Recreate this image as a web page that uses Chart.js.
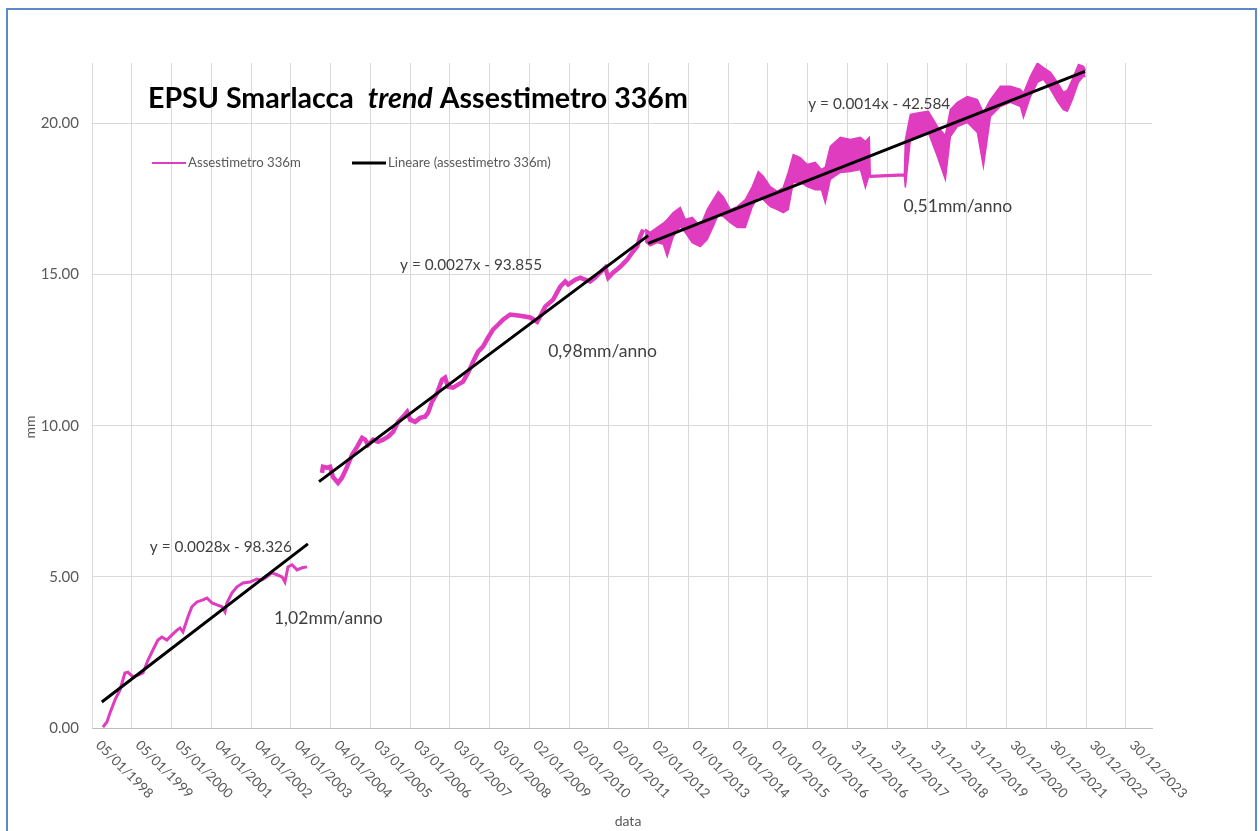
<!DOCTYPE html>
<html>
<head>
<meta charset="utf-8">
<title>EPSU Smarlacca trend Assestimetro 336m</title>
<script src="https://cdn.jsdelivr.net/npm/chart.js@4.4.1/dist/chart.umd.min.js"></script>
<style>
    html, body { margin: 0; padding: 0; background: #ffffff; }
    #wrap { width: 1260px; height: 831px; }
</style>
</head>
<body>
<div id="wrap"><canvas id="chart" width="1260" height="831"></canvas></div>
<script>
// x axis: Excel date axis, one gridline every 365 days
const tickLabels = [
    '05/01/1998', '05/01/1999', '05/01/2000', '04/01/2001', '04/01/2002', '04/01/2003',
    '04/01/2004', '03/01/2005', '03/01/2006', '03/01/2007', '03/01/2008', '02/01/2009',
    '02/01/2010', '02/01/2011', '02/01/2012', '01/01/2013', '01/01/2014', '01/01/2015',
    '01/01/2016', '31/12/2016', '31/12/2017', '31/12/2018', '31/12/2019', '30/12/2020',
    '30/12/2021', '30/12/2022', '30/12/2023'
];
const yTicks = [0, 5, 10, 15, 20];

// first measuring period (1998 - 2003)
const seg1Dates = [
    '1998-04-15', '1998-05-22', '1998-06-19', '1998-08-04', '1998-09-19', '1998-11-03', '1998-12-01',
    '1999-01-16', '1999-03-03', '1999-04-18', '1999-06-03', '1999-07-18', '1999-09-02', '1999-10-08', '1999-11-23',
    '2000-01-09', '2000-02-24', '2000-03-23', '2000-04-19', '2000-06-04', '2000-07-10', '2000-08-25', '2000-10-19', '2000-11-25',
    '2001-01-10', '2001-02-25', '2001-04-13', '2001-05-10', '2001-05-28', '2001-07-13', '2001-08-28', '2001-10-22', '2001-12-25',
    '2002-02-27', '2002-04-14', '2002-05-30', '2002-07-15', '2002-08-30', '2002-10-15', '2002-11-11', '2002-12-09',
    '2003-01-15', '2003-03-02', '2003-04-17', '2003-06-02'
];
const seg1Values = [
    0.03, 0.20, 0.50, 0.93, 1.26, 1.82, 1.85,
    1.69, 1.75, 1.82, 2.25, 2.58, 2.91, 3.01, 2.91,
    3.08, 3.24, 3.31, 3.18, 3.68, 4.01, 4.17, 4.24, 4.30,
    4.14, 4.07, 4.01, 3.84, 4.14, 4.47, 4.67, 4.80, 4.83,
    4.93, 4.90, 5.00, 5.13, 5.07, 5.00, 4.83, 5.33,
    5.40, 5.23, 5.30, 5.33
];

// second period (2003 - 2011)
const seg2Dates = [
    '2003-10-17', '2003-10-26', '2003-12-02', '2003-12-30',
    '2004-01-26', '2004-03-12', '2004-04-18', '2004-06-03', '2004-07-19', '2004-09-03', '2004-10-19', '2004-11-16', '2004-12-13',
    '2005-01-28', '2005-03-15', '2005-04-30', '2005-06-15', '2005-07-31', '2005-09-15', '2005-10-31', '2005-12-07',
    '2006-01-03', '2006-02-18', '2006-04-05', '2006-05-20', '2006-06-17', '2006-07-23', '2006-09-08', '2006-10-23', '2006-11-20', '2006-12-17',
    '2007-02-01', '2007-03-19', '2007-05-04', '2007-06-19', '2007-08-04', '2007-09-19', '2007-11-03', '2007-12-19',
    '2008-02-03', '2008-03-20', '2008-05-05', '2008-07-09', '2008-10-09',
    '2009-01-09', '2009-03-14', '2009-04-20', '2009-05-27', '2009-08-08', '2009-10-12', '2009-11-27', '2009-12-24',
    '2010-02-27', '2010-04-14', '2010-05-29', '2010-07-14', '2010-08-29', '2010-10-14', '2010-11-29', '2010-12-27',
    '2011-02-11', '2011-04-16', '2011-06-19', '2011-08-04', '2011-09-19', '2011-10-16', '2011-11-13'
];
const seg2Values = [
    8.44, 8.64, 8.61, 8.64,
    8.31, 8.11, 8.28, 8.64, 9.04, 9.30, 9.60, 9.54, 9.37,
    9.54, 9.47, 9.54, 9.64, 9.80, 10.13, 10.30, 10.46,
    10.20, 10.13, 10.26, 10.30, 10.43, 10.79, 11.09, 11.52, 11.59, 11.29,
    11.26, 11.36, 11.46, 11.75, 12.12, 12.45, 12.62, 12.91,
    13.18, 13.34, 13.51, 13.68, 13.64,
    13.58, 13.44, 13.68, 13.94, 14.17, 14.60, 14.77, 14.67,
    14.83, 14.90, 14.83, 14.77, 14.90, 15.07, 15.23, 14.90,
    15.07, 15.26, 15.50, 15.73, 15.93, 16.26, 16.49
];

// third period (2012 - 2022): daily readings, drawn as their min / max envelope
const bandDates = [
    '2011-11-30', '2012-01-16', '2012-03-20', '2012-05-15', '2012-06-20', '2012-08-14', '2012-10-18', '2012-12-03',
    '2013-02-05', '2013-04-19', '2013-06-22', '2013-08-16', '2013-10-02', '2013-11-16',
    '2014-01-20', '2014-03-25', '2014-06-07', '2014-08-10', '2014-10-04', '2014-11-19',
    '2015-01-22', '2015-03-27', '2015-05-21', '2015-07-06', '2015-08-21', '2015-10-24', '2015-12-27',
    '2016-03-10', '2016-05-05', '2016-06-10', '2016-07-26', '2016-10-26',
    '2017-01-26', '2017-04-28', '2017-06-13', '2017-07-19', '2017-07-28',
    '2018-06-06', '2018-06-15', '2018-07-31', '2018-10-30',
    '2019-01-12', '2019-04-05', '2019-06-17', '2019-08-02', '2019-10-05',
    '2020-01-05', '2020-04-06', '2020-05-31', '2020-08-04', '2020-11-03',
    '2021-02-04', '2021-05-07', '2021-06-03', '2021-08-06', '2021-10-09', '2021-12-03',
    '2022-02-06', '2022-04-11', '2022-06-05', '2022-07-11', '2022-08-26', '2022-10-21', '2022-12-06', '2022-12-24'
];
const bandUpper = [
    16.50, 16.40, 16.56, 16.70, 16.82, 17.05, 17.22, 16.82,
    16.89, 16.59, 17.15, 17.48, 17.75, 17.58,
    17.15, 17.25, 17.48, 17.91, 18.41, 18.25,
    17.91, 17.75, 17.88, 18.38, 18.97, 18.87, 18.64,
    18.71, 18.48, 18.55, 19.24, 19.54,
    19.47, 19.54, 19.40, 19.54, 18.28,
    18.33, 19.47, 20.30, 20.36,
    20.40, 19.90, 19.60, 20.46, 20.70,
    20.89, 20.79, 20.36, 20.79, 21.23,
    21.23, 21.13, 21.00, 21.56, 22.00, 21.85,
    21.69, 21.36, 21.03, 21.10, 21.46, 21.95, 21.89, 21.75
];
const bandLower = [
    16.10, 15.95, 16.06, 16.00, 15.60, 16.26, 16.59, 16.39,
    16.06, 15.93, 16.16, 16.59, 16.99, 16.92,
    16.72, 16.56, 16.56, 17.25, 17.58, 17.48,
    17.25, 17.15, 17.05, 17.15, 18.05, 18.05, 17.91,
    17.81, 17.81, 17.38, 18.15, 18.38,
    18.41, 18.48, 17.88, 18.30, 18.22,
    18.27, 17.88, 19.47, 19.57,
    19.70, 18.91, 18.15, 19.57, 19.90,
    20.03, 19.70, 18.58, 20.23, 20.56,
    20.70, 20.56, 20.20, 20.89, 21.36, 21.46,
    21.13, 20.73, 20.46, 20.40, 20.79, 21.36, 21.56, 21.55
];

// linear trends, one start / end pair per period
const trendDates = ['1998-04-05', '2003-06-10', '2003-09-20', '2011-12-28', '2011-12-28', '2022-12-20'];
const trendValues = [0.86, 6.09, 8.15, 16.29, 16.03, 21.72];

const equations = ['y = 0.0028x - 98.326', 'y = 0.0027x - 93.855', 'y = 0.0014x - 42.584'];
const equationAt = [['1999-06-20', 5.99], ['2005-10-03', 15.32], ['2016-01-06', 20.64]];
const rates = ['1,02mm/anno', '0,98mm/anno', '0,51mm/anno'];
const rateAt = [['2002-08-02', 3.64], ['2009-06-23', 12.47], ['2018-05-28', 17.27]];

const PINK = '#e03cc0';
const FONT = 'Lato, "Open Sans", sans-serif';

// Excel serial day number
function serial(iso) {
    const [y, m, d] = iso.split('-').map(Number);
    return (Date.UTC(y, m - 1, d) - Date.UTC(1899, 11, 30)) / 86400000;
}

function serialFromLabel(label) {
    const [d, m, y] = label.split('/');
    return serial(`${y}-${m}-${d}`);
}

function toPoints(dates, values) {
    return dates.map((d, i) => ({ x: serial(d), y: values[i] }));
}

function trendPoints() {
    const pts = [];
    for (let i = 0; i < trendDates.length; i += 2) {
        if (i > 0) {
            pts.push({ x: serial(trendDates[i]), y: null });
        }
        pts.push({ x: serial(trendDates[i]), y: trendValues[i] });
        pts.push({ x: serial(trendDates[i + 1]), y: trendValues[i + 1] });
    }
    return pts;
}

function fitSize(ctx, text, width, weight) {
    ctx.font = `${weight} 20px ${FONT}`;
    return 20 * width / ctx.measureText(text).width;
}

const gapStart = serial('2003-08-01');
const mainSeries = toPoints(seg1Dates, seg1Values)
    .concat([{ x: gapStart, y: null }])
    .concat(toPoints(seg2Dates, seg2Values));

const overlay = {
    id: 'overlay',
    afterDraw(chart) {
        const ctx = chart.ctx;
        const xs = chart.scales.x;
        const ys = chart.scales.y;
        ctx.save();

        // frame
        ctx.strokeStyle = '#5b8ac9';
        ctx.lineWidth = 2;
        ctx.beginPath();
        ctx.moveTo(7, 840);
        ctx.lineTo(7, 9);
        ctx.lineTo(1256, 9);
        ctx.lineTo(1256, 840);
        ctx.stroke();

        // y tick labels
        ctx.fillStyle = '#595959';
        ctx.font = `15px ${FONT}`;
        ctx.textAlign = 'right';
        ctx.textBaseline = 'middle';
        yTicks.forEach(v => ctx.fillText(v.toFixed(2), xs.left - 13, ys.getPixelForValue(v)));

        // x tick labels, rotated down to the right
        ctx.font = `13.5px ${FONT}`;
        ctx.textAlign = 'left';
        tickLabels.forEach(label => {
            const px = xs.getPixelForValue(serialFromLabel(label));
            ctx.save();
            ctx.translate(px + 6, ys.bottom + 15);
            ctx.rotate(Math.PI / 4);
            ctx.fillText(label, 0, 0);
            ctx.restore();
        });

        // axis titles
        ctx.font = `14px ${FONT}`;
        ctx.textAlign = 'center';
        ctx.fillText('data', 628, 821);
        ctx.save();
        ctx.translate(30, 427);
        ctx.rotate(-Math.PI / 2);
        ctx.fillText('mm', 0, 0);
        ctx.restore();

        // title
        const parts = [['EPSU Smarlacca  ', 'bold'], ['trend', 'italic bold'], [' Assestimetro 336m', 'bold']];
        let total = 0;
        parts.forEach(p => {
            ctx.font = `${p[1]} 20px ${FONT}`;
            total += ctx.measureText(p[0]).width;
        });
        const titleSize = 20 * 540 / total;
        let tx = 148;
        ctx.fillStyle = '#000000';
        ctx.textAlign = 'left';
        ctx.textBaseline = 'alphabetic';
        parts.forEach(p => {
            ctx.font = `${p[1]} ${titleSize}px ${FONT}`;
            ctx.fillText(p[0], tx, 108);
            tx += ctx.measureText(p[0]).width;
        });

        // legend
        const legendSize = fitSize(ctx, chart.data.datasets[0].label, 113, 'normal');
        ctx.font = `${legendSize}px ${FONT}`;
        ctx.textBaseline = 'middle';
        ctx.fillStyle = '#595959';
        const entries = [[0, 152], [3, 352]];
        entries.forEach(([idx, lx]) => {
            const ds = chart.data.datasets[idx];
            ctx.strokeStyle = ds.borderColor;
            ctx.lineWidth = idx === 0 ? 2 : 3;
            ctx.beginPath();
            ctx.moveTo(lx, 163);
            ctx.lineTo(lx + 34, 163);
            ctx.stroke();
            ctx.fillText(ds.label, lx + 36, 163);
        });

        // trend equations and yearly rates
        ctx.fillStyle = '#404040';
        const eqSize = fitSize(ctx, equations[1], 142, 'normal');
        ctx.font = `${eqSize}px ${FONT}`;
        equations.forEach((t, i) => {
            ctx.fillText(t, xs.getPixelForValue(serial(equationAt[i][0])), ys.getPixelForValue(equationAt[i][1]));
        });
        const rateSize = fitSize(ctx, rates[1], 109, 'normal');
        ctx.font = `${rateSize}px ${FONT}`;
        rates.forEach((t, i) => {
            ctx.fillText(t, xs.getPixelForValue(serial(rateAt[i][0])), ys.getPixelForValue(rateAt[i][1]));
        });

        ctx.restore();
    }
};

const chart = new Chart(document.getElementById('chart'), {
    type: 'line',
    data: {
        datasets: [
            {
                label: 'Assestimetro 336m',
                data: mainSeries,
                borderColor: PINK,
                borderWidth: 3,
                pointRadius: 0,
                spanGaps: false,
                segment: {
                    borderWidth: c => (c.p0.parsed.x > gapStart ? 4.5 : 3)
                },
                order: 2
            },
            {
                label: 'max',
                data: toPoints(bandDates, bandUpper),
                borderColor: PINK,
                borderWidth: 1.5,
                pointRadius: 0,
                order: 2
            },
            {
                label: 'min',
                data: toPoints(bandDates, bandLower),
                borderColor: PINK,
                backgroundColor: PINK,
                borderWidth: 1.5,
                pointRadius: 0,
                fill: '-1',
                order: 2
            },
            {
                label: 'Lineare (assestimetro 336m)',
                data: trendPoints(),
                borderColor: '#000000',
                borderWidth: 3,
                pointRadius: 0,
                spanGaps: false,
                order: 1
            }
        ]
    },
    options: {
        responsive: false,
        animation: false,
        devicePixelRatio: 1,
        layout: {
            padding: { left: 92, top: 63, right: 108, bottom: 103 }
        },
        plugins: {
            legend: { display: false },
            title: { display: false },
            tooltip: { enabled: false }
        },
        scales: {
            x: {
                type: 'linear',
                min: serialFromLabel(tickLabels[0]),
                max: 45530,
                afterBuildTicks: scale => {
                    scale.ticks = tickLabels.map(l => ({ value: serialFromLabel(l) }));
                },
                ticks: { display: false },
                grid: { color: '#d9d9d9', lineWidth: 1, drawTicks: false },
                border: { display: true, color: '#bfbfbf', width: 1 }
            },
            y: {
                min: 0,
                max: 22,
                afterBuildTicks: scale => {
                    scale.ticks = yTicks.map(v => ({ value: v }));
                },
                ticks: { display: false },
                grid: { color: '#d9d9d9', lineWidth: 1, drawTicks: false },
                border: { display: false }
            }
        }
    },
    plugins: [overlay]
});
</script>
</body>
</html>
